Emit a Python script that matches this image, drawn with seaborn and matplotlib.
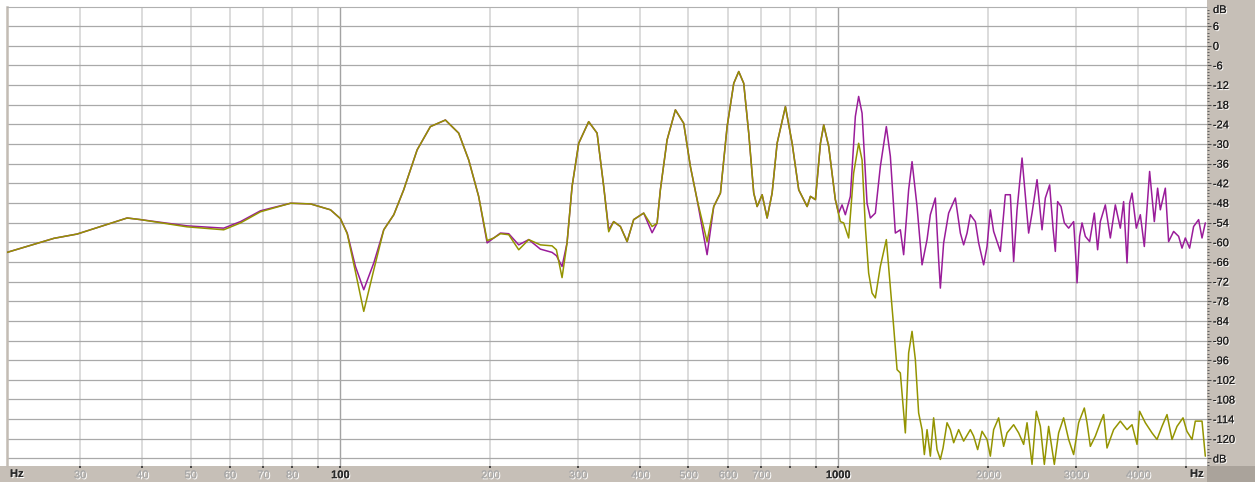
import numpy as np
import pandas as pd
import matplotlib
matplotlib.use("Agg")
import matplotlib.pyplot as plt
import matplotlib.patheffects as pe
from matplotlib.patches import Rectangle
import seaborn as sns

# ---------------- data (Hz, dB) ----------------
freq_low = [21.4, 26.6, 29.6, 37.3, 39.7, 49.2, 58.3, 63.0, 69.1, 79.4, 87.1, 95.5, 100.0,
            103.2, 107.2, 111.4, 116.7, 122.2, 128.0, 134.0, 142.6, 151.6, 162.5, 172.8,
            181.0, 189.5, 197.1, 203.2, 209.6, 217.8, 228.1, 238.9, 252.1, 266.1, 271.5,
            278.7, 285.2, 291.9, 301.0, 315.2, 327.7, 337.9, 345.8, 353.8, 365.0, 376.5,
            388.1, 406.5, 422.6, 432.5, 439.1, 452.9, 470.7, 489.1, 504.5, 520.4, 545.0,
            562.0, 579.7, 597.9, 616.5, 630.9, 645.6, 660.7, 676.2, 686.9, 703.0, 719.4,
            736.2, 753.4, 782.9, 807.6, 832.6, 865.6, 878.9, 899.4, 920.5, 934.6, 956.5, 986.2]

db_low_purple = [-63.1, -58.8, -57.5, -52.6, -53.1, -55.0, -55.7, -53.7, -50.4, -48.1, -48.3,
                 -50.1, -52.8, -57.2, -67.4, -74.5, -66.3, -56.2, -51.6, -44.0, -31.8, -24.7,
                 -22.7, -26.7, -34.9, -46.0, -60.2, -58.7, -57.2, -57.4, -60.8, -59.2, -62.1,
                 -63.1, -64.1, -67.4, -60.2, -43.0, -29.8, -23.2, -26.7, -43.0, -56.2, -53.7,
                 -55.2, -59.8, -53.1, -51.1, -57.1, -54.2, -44.0, -28.8, -19.6, -23.7, -36.9,
                 -47.0, -63.8, -49.1, -45.0, -24.7, -11.5, -7.9, -11.5, -26.7, -45.0, -49.1,
                 -45.5, -52.6, -45.0, -29.8, -18.6, -29.8, -44.0, -49.1, -46.0, -47.0, -29.8,
                 -24.2, -30.8, -47.0]

db_low_olive = [-63.1, -58.8, -57.5, -52.6, -53.1, -55.3, -56.2, -54.1, -50.7, -48.1, -48.3,
                -50.1, -52.8, -57.4, -69.0, -81.1, -68.4, -56.2, -51.6, -44.0, -31.8, -24.7,
                -22.7, -26.7, -34.9, -46.0, -59.5, -58.7, -57.4, -57.7, -62.3, -59.2, -60.8,
                -61.1, -62.3, -70.8, -60.2, -43.0, -29.8, -23.2, -26.7, -43.0, -56.8, -53.7,
                -55.2, -59.8, -53.1, -51.1, -55.2, -54.2, -44.0, -28.8, -19.6, -23.7, -36.9,
                -47.0, -59.8, -49.1, -45.0, -24.7, -11.5, -7.9, -11.5, -26.7, -45.0, -49.1,
                -45.5, -52.6, -45.0, -29.8, -18.6, -29.8, -44.0, -49.1, -46.0, -47.0, -29.8,
                -24.2, -30.8, -47.0]

freq_hi_purple = [1001.4, 1017.3, 1032.9, 1057.1, 1081.8, 1098.4, 1115.9, 1141.9, 1159.5, 1186.6,
                  1214.3, 1248.5, 1271.9, 1301.6, 1332.0, 1352.5, 1384.1, 1406.1, 1439.0, 1472.6,
                  1507.1, 1530.2, 1566.0, 1590.1, 1602.7, 1627.3, 1665.4, 1717.8, 1758.0, 1785.0,
                  1813.3, 1841.2, 1884.2, 1913.2, 1957.9, 1988.9, 2019.5, 2050.6, 2115.1, 2164.6,
                  2215.2, 2249.3, 2285.0, 2338.4, 2410.8, 2449.0, 2506.3, 2564.9, 2604.3, 2656.6,
                  2698.7, 2727.5, 2756.7, 2800.4, 2843.5, 2900.6, 2968.4, 3005.7, 3015.4, 3051.9,
                  3085.9, 3133.3, 3196.3, 3266.5, 3316.7, 3358.3, 3436.9, 3517.3, 3599.6, 3683.8,
                  3740.4, 3799.7, 3845.6, 3888.5, 3966.6, 4040.7, 4116.1, 4167.8, 4218.2, 4310.9,
                  4377.1, 4432.1, 4535.8, 4605.5, 4713.2, 4823.4, 4899.8, 4975.2, 5075.1, 5169.8,
                  5290.7, 5374.6, 5457.3]

db_hi_purple = [-51.1, -48.6, -51.6, -46.0, -21.6, -15.5, -20.6, -48.1, -52.6, -51.1,
                -36.9, -24.7, -33.8, -57.2, -56.2, -63.8, -44.0, -35.4, -49.1, -66.9,
                -59.2, -51.6, -46.5, -65.3, -74.0, -60.2, -51.1, -46.5, -57.2, -60.8,
                -57.2, -51.6, -53.7, -60.2, -66.9, -61.3, -50.1, -56.7, -62.8, -45.5,
                -45.5, -65.9, -50.1, -34.3, -57.2, -51.1, -40.9, -56.2, -46.5, -42.5,
                -55.7, -62.8, -47.6, -49.1, -54.1, -55.7, -53.7, -67.4, -72.4, -58.2,
                -54.1, -58.2, -59.8, -51.1, -62.3, -53.7, -48.6, -58.7, -48.6, -55.7,
                -47.6, -66.3, -48.1, -45.0, -55.7, -51.6, -61.3, -49.6, -38.4, -53.7,
                -43.5, -50.1, -43.5, -59.8, -56.7, -58.2, -61.8, -58.7, -61.8, -55.2,
                -53.1, -58.7, -54.1]

freq_hi_olive = [1009.3, 1024.8, 1048.8, 1073.3, 1098.4, 1115.9, 1133.0, 1150.4, 1168.7, 1186.6,
                 1214.3, 1248.5, 1271.9, 1291.4, 1312.0, 1332.0, 1352.5, 1363.2, 1384.1, 1406.1,
                 1427.7, 1449.6, 1472.6, 1488.4, 1507.1, 1530.2, 1553.7, 1578.3, 1602.7, 1622.8,
                 1653.1, 1678.7, 1704.6, 1744.2, 1785.0, 1841.2, 1869.5, 1904.4, 1943.5, 1988.9,
                 2019.5, 2050.6, 2098.6, 2147.6, 2181.7, 2249.3, 2302.0, 2355.8, 2393.1, 2449.0,
                 2498.2, 2544.8, 2592.3, 2644.4, 2714.9, 2769.5, 2834.3, 2900.6, 2968.4, 3037.8,
                 3118.9, 3158.0, 3206.6, 3281.6, 3358.3, 3410.0, 3464.0, 3571.5, 3683.8, 3799.7,
                 3888.5, 3979.5, 4027.6, 4135.2, 4265.3, 4365.0, 4466.8, 4571.4, 4678.5, 4787.9,
                 4922.6, 5012.3, 5131.7, 5210.7, 5374.6, 5457.3]

db_hi_olive = [-53.7, -54.1, -58.7, -38.9, -29.8, -34.9, -55.2, -69.4, -75.5, -77.0,
               -67.4, -59.2, -73.9, -85.7, -98.9, -99.9, -112.1, -118.2, -93.8, -87.2,
               -95.8, -112.1, -117.2, -124.8, -117.2, -125.3, -113.6, -123.3, -126.3, -122.8,
               -115.1, -117.2, -121.2, -117.2, -120.7, -117.2, -119.2, -123.3, -117.7, -120.2,
               -125.3, -117.2, -113.6, -122.3, -118.2, -115.7, -118.2, -121.7, -115.1, -127.8,
               -111.6, -116.2, -127.8, -116.2, -127.8, -118.2, -113.6, -120.2, -124.8, -115.1,
               -110.6, -115.1, -122.3, -119.2, -115.1, -112.6, -122.8, -117.2, -114.6, -117.2,
               -115.7, -121.7, -111.6, -115.1, -118.2, -120.2, -116.2, -112.6, -120.2, -116.2,
               -113.6, -117.7, -120.2, -114.6, -114.6, -125.3]

minor_freqs = [30, 40, 50, 60, 70, 80, 90, 200, 300, 400, 500, 600, 700, 800, 900,
               2000, 3000, 4000, 5000]
minor_labels = ["30", "40", "50", "60", "70", "80", "", "200", "300", "400", "500", "600",
                "700", "", "", "2000", "3000", "4000", ""]
major_freqs = [100, 1000]
major_labels = ["100", "1000"]
db_ticks = list(range(-126, 7, 6))
db_labels = ["dB" if v == -126 else str(v) for v in db_ticks]

# ---------------- style ----------------
sns.set_theme(style="white")
plt.rcParams['font.family'] = ['Liberation Sans', 'DejaVu Sans']

W, H = 1255, 482
fig = plt.figure(figsize=(W / 100, H / 100), dpi=100)
fig.patch.set_facecolor('white')
panel = '#c6bfb7'
fig.add_artist(Rectangle((1207 / W, 0), 48 / W, 1, transform=fig.transFigure,
                         facecolor=panel, edgecolor='none', zorder=-2))
fig.add_artist(Rectangle((0, 0), 1, 16 / H, transform=fig.transFigure,
                         facecolor=panel, edgecolor='none', zorder=-2))
fig.add_artist(Rectangle((1207 / W, 0), 48 / W, 16 / H, transform=fig.transFigure,
                         facecolor='#aaa39b', edgecolor='none', zorder=-1))

ax = fig.add_axes([7 / W, 16 / H, 1200 / W, 459 / H])
ax.set_facecolor('white')

purple = '#9a1c9a'
olive = '#949400'
df_p = pd.DataFrame({'freq': freq_low + freq_hi_purple, 'db': db_low_purple + db_hi_purple})
df_o = pd.DataFrame({'freq': freq_low + freq_hi_olive, 'db': db_low_olive + db_hi_olive})
sns.lineplot(data=df_p, x='freq', y='db', ax=ax, color=purple, lw=1.1,
             estimator=None, sort=False, legend=False, zorder=3)
sns.lineplot(data=df_o, x='freq', y='db', ax=ax, color=olive, lw=1.1,
             estimator=None, sort=False, legend=False, zorder=4)

ax.set_xscale('log')
ax.set_xlim(21.4, 5500)
ax.set_ylim(-128.3, 11.8)
ax.set_xlabel('')
ax.set_ylabel('')

# x ticks
ax.set_xticks(major_freqs)
ax.set_xticklabels(major_labels)
ax.set_xticks(minor_freqs, minor=True)
ax.set_xticklabels(minor_labels, minor=True)
ax.tick_params(axis='x', which='both', direction='out', length=1.5, width=1.2,
               color='#303030', pad=1.5, labelsize=8, bottom=True)

shadow = [pe.withSimplePatchShadow(offset=(0.8, -0.8), shadow_rgbFace='white', alpha=1.0),
          pe.Normal()]
for lbl in ax.get_xticklabels(minor=True):
    lbl.set_color('#a9a9a9')
    lbl.set_path_effects(shadow)
for lbl in ax.get_xticklabels():
    lbl.set_color('#2a2a2a')
    lbl.set_fontweight('bold')
    lbl.set_path_effects(shadow)

# y ticks on right
ax.yaxis.tick_right()
ax.set_yticks(db_ticks)
ax.set_yticklabels(db_labels)
ax.set_yticks(np.arange(-128, 12, 1), minor=True)
ax.tick_params(axis='y', which='major', direction='out', length=3, width=0.8,
               color='#505050', pad=1.2, labelsize=8, labelcolor='#1e1e1e')
ax.tick_params(axis='y', which='minor', direction='out', length=1.3, width=0.7,
               color='#606060')
for lbl in ax.get_yticklabels():
    lbl.set_path_effects(shadow)

# grids
ax.grid(True, which='major', axis='y', color='#a9a9a9', lw=0.9)
ax.grid(True, which='minor', axis='x', color='#d6d6d6', lw=1.2)
ax.grid(True, which='major', axis='x', color='#a3a3a3', lw=1.0)
ax.set_axisbelow(True)

for side in ['right', 'bottom']:
    ax.spines[side].set_visible(False)
ax.spines['top'].set_color('#b0b0b0')
ax.spines['top'].set_linewidth(0.8)
ax.spines['left'].set_color('#c3bcb4')
ax.spines['left'].set_linewidth(1.8)

# extra unit labels
fig.text(1213 / W, 1 - 10 / H, 'dB', ha='left', va='center', fontsize=8,
         color='#1e1e1e', path_effects=shadow)
fig.text(10 / W, 1 - 474 / H, 'Hz', ha='left', va='center', fontsize=8,
         color='#2a2a2a', fontweight='bold', path_effects=shadow)
fig.text(1190 / W, 1 - 474 / H, 'Hz', ha='left', va='center', fontsize=8,
         color='#2a2a2a', fontweight='bold', path_effects=shadow)

fig.savefig('out.png', dpi=100, facecolor=fig.get_facecolor())
